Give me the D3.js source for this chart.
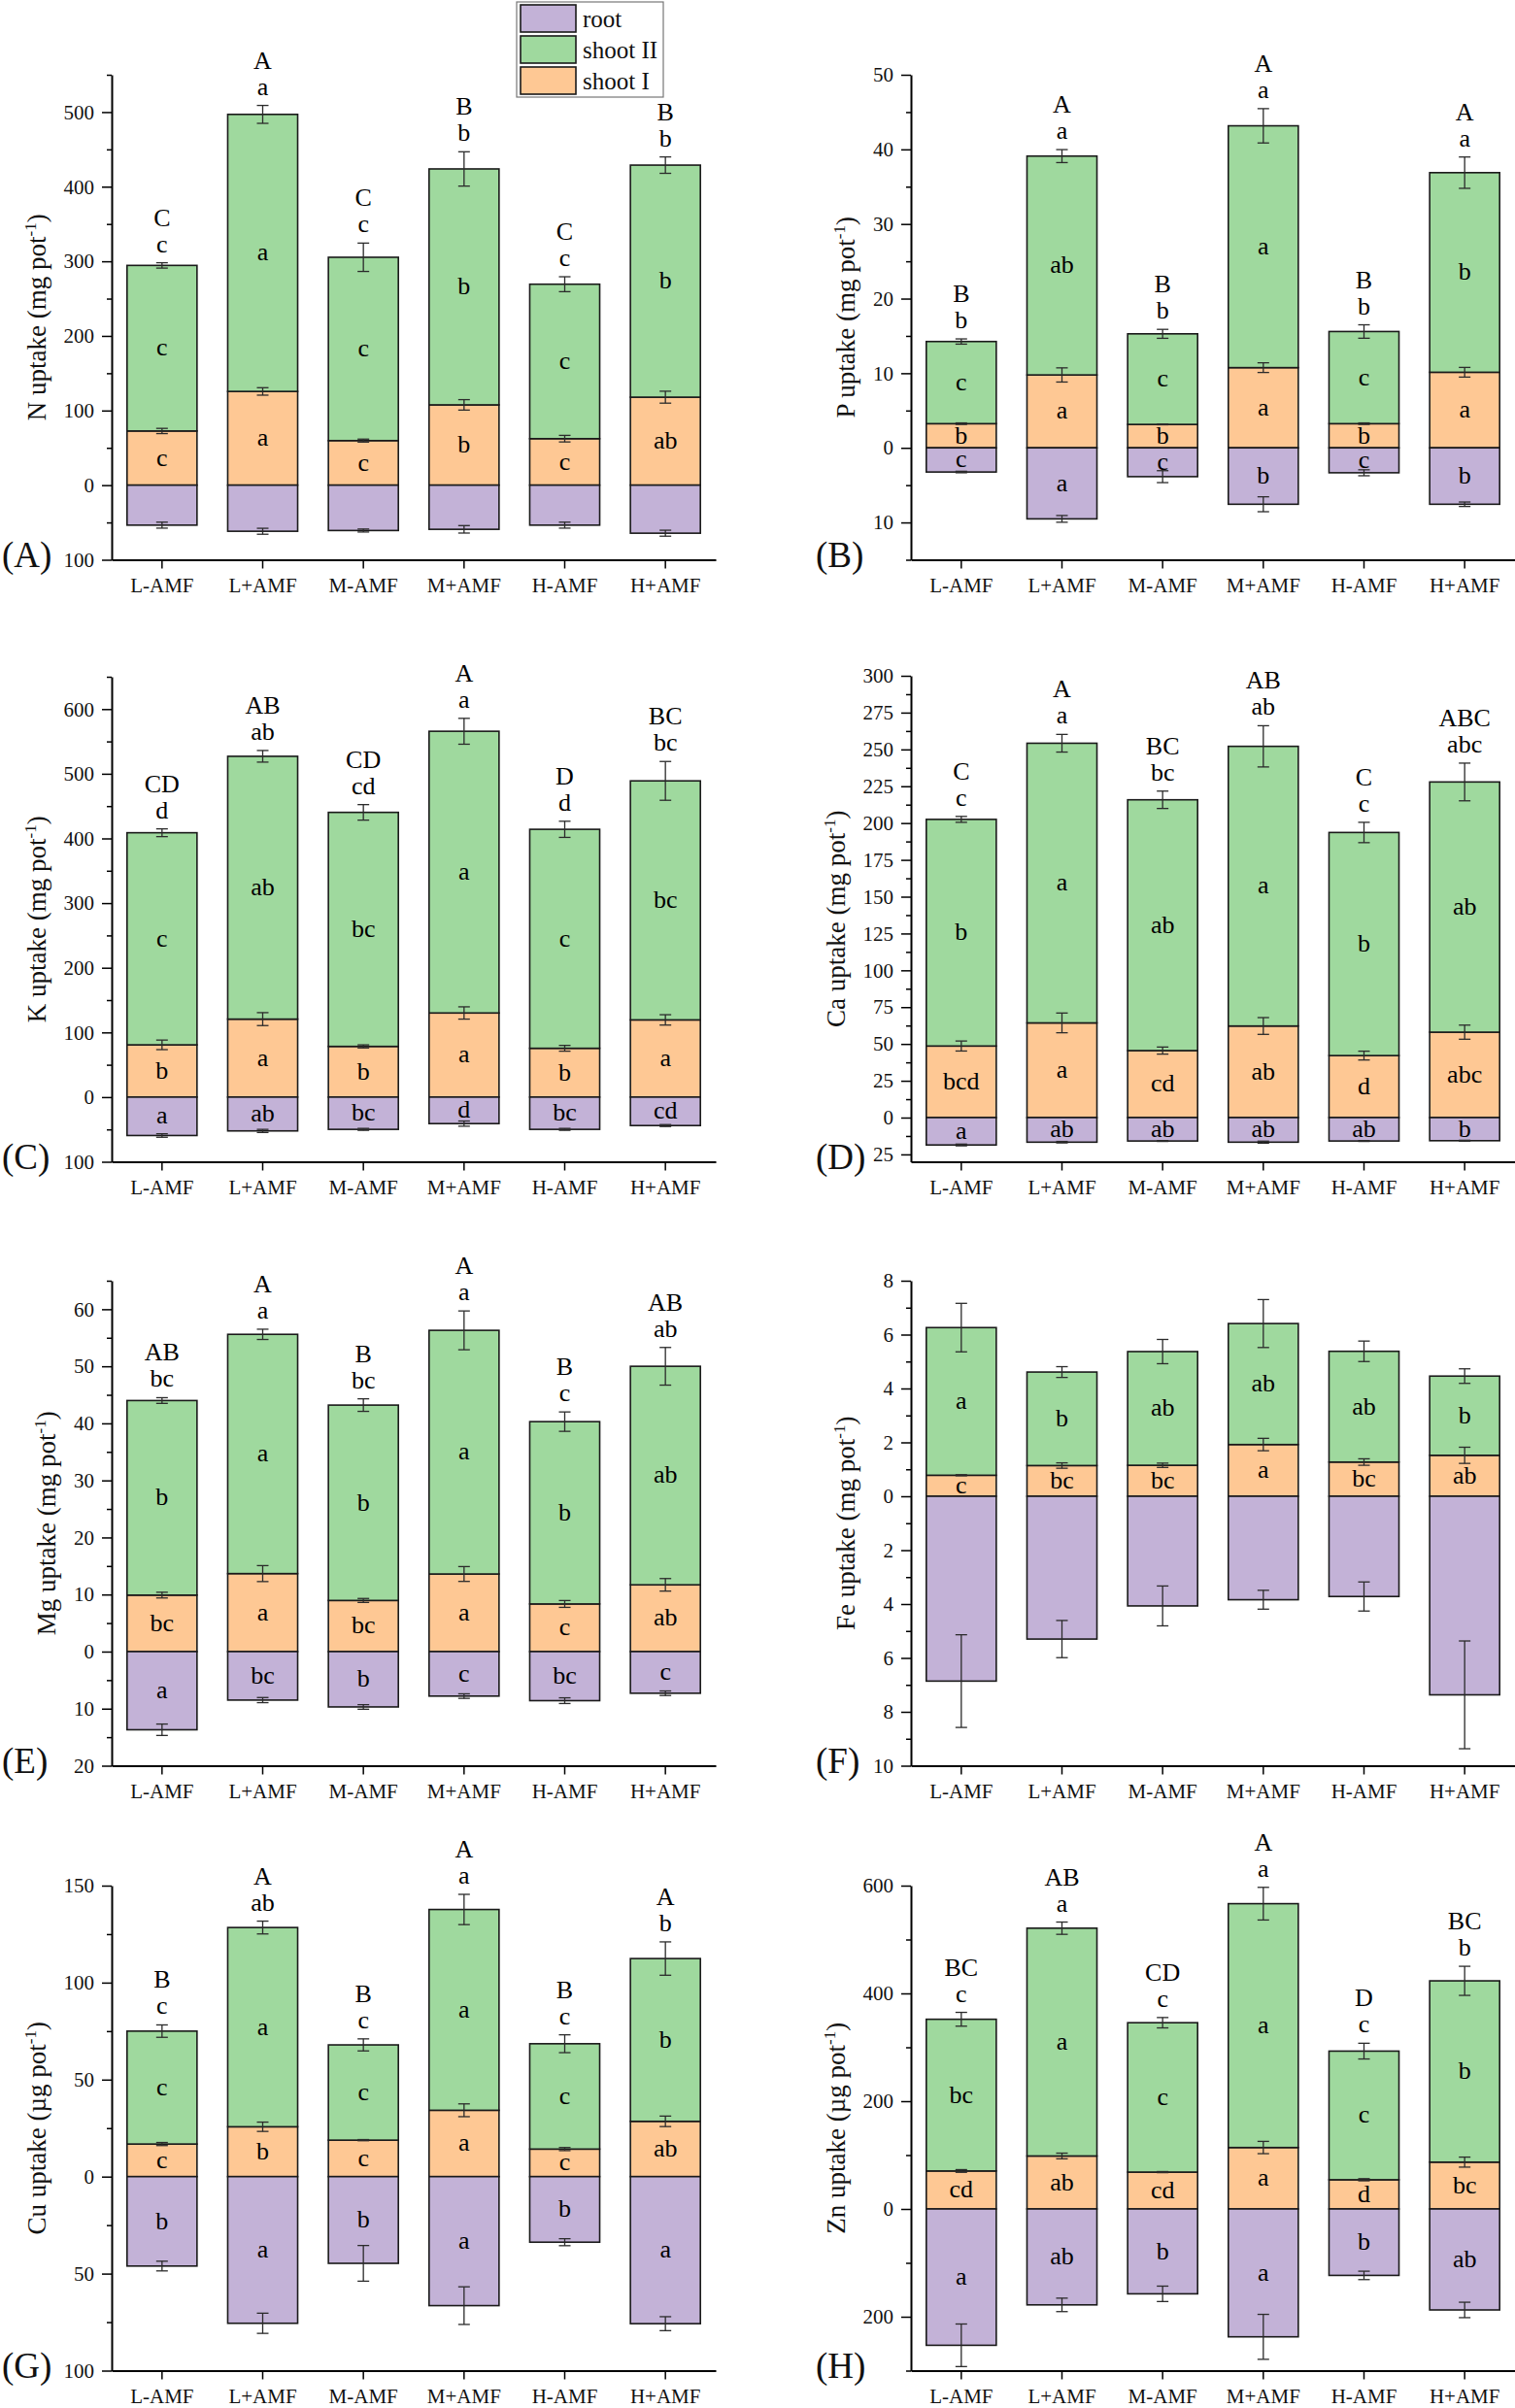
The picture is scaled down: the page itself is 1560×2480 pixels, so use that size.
<!DOCTYPE html>
<html>
<head>
<meta charset="utf-8">
<script src="https://cdn.jsdelivr.net/npm/d3@7"></script>
<style>
body { margin: 0; background: #fff; }
svg { display: block; font-family: "Liberation Serif", "Times New Roman", serif; }
</style>
</head>
<body>
<div id="chart"></div>
<script>
var width = 1560;
var height = 2480;

var groups = ["L-AMF", "L+AMF", "M-AMF", "M+AMF", "H-AMF", "H+AMF"];
var seriesNames = ["root", "shoot II", "shoot I"];
var seriesColors = { "root": "#c3b2d7", "shoot II": "#9fd99e", "shoot I": "#fec894" };

// N (mg pot-1)
var nShootI = [72.6, 125.6, 59.7, 107.6, 62.3, 117.9];
var nShootII = [221.9, 371.3, 245.7, 316.2, 207.0, 311.0];
var nRoot = [53.6, 61.8, 60.8, 59.2, 53.6, 64.4];
var nShootIErr = [3.5, 5, 2, 7, 4.4, 8];
var nShootIIErr = [3.6, 12, 19, 23, 10, 11];
var nRootErr = [4, 4, 2, 5, 4, 4];
var nUpper = ["C", "A", "C", "B", "C", "B"];
var nLower = ["c", "a", "c", "b", "c", "b"];
var nLetII = ["c", "a", "c", "b", "c", "b"];
var nLetI = ["c", "a", "c", "b", "c", "ab"];
var nLetRoot = null;

// P (mg pot-1)
var pShootI = [3.24, 9.77, 3.14, 10.75, 3.24, 10.13];
var pShootII = [11.01, 29.33, 12.14, 32.41, 12.35, 26.75];
var pRoot = [3.24, 9.52, 3.86, 7.56, 3.34, 7.56];
var pShootIErr = [0.1, 0.95, 0.05, 0.65, 0.1, 0.65];
var pShootIIErr = [0.35, 0.87, 0.6, 2.3, 0.9, 2.1];
var pRootErr = [0.1, 0.45, 0.8, 1.0, 0.4, 0.3];
var pUpper = ["B", "A", "B", "A", "B", "A"];
var pLower = ["b", "a", "b", "a", "b", "a"];
var pLetII = ["c", "ab", "c", "a", "c", "b"];
var pLetI = ["b", "a", "b", "a", "b", "a"];
var pLetRoot = ["c", "a", "c", "b", "c", "b"];

// K (mg pot-1)
var kShootI = [80.8, 120.6, 78.4, 130.1, 75.5, 119.4];
var kShootII = [328.0, 406.4, 361.9, 435.6, 338.6, 369.6];
var kRoot = [59.4, 52.3, 49.9, 41.0, 49.9, 44.0];
var kShootIErr = [7.4, 10, 2.4, 9.5, 4.5, 8];
var kShootIIErr = [6, 9, 12, 20, 12.5, 30];
var kRootErr = [2.7, 2.4, 1.5, 4, 1.5, 1.5];
var kUpper = ["CD", "AB", "CD", "A", "D", "BC"];
var kLower = ["d", "ab", "cd", "a", "d", "bc"];
var kLetII = ["c", "ab", "bc", "a", "c", "bc"];
var kLetI = ["b", "a", "b", "a", "b", "a"];
var kLetRoot = ["a", "ab", "bc", "d", "bc", "cd"];

// Ca (mg pot-1)
var caShootI = [48.6, 64.3, 45.5, 62.2, 42.1, 58.0];
var caShootII = [153.9, 189.9, 170.3, 189.9, 151.5, 169.9];
var caRoot = [18.6, 16.7, 15.9, 16.7, 15.9, 15.7];
var caShootIErr = [3.4, 6.7, 2.4, 5.7, 3, 4.8];
var caShootIIErr = [2, 6, 5.9, 14, 6.9, 12.8];
var caRootErr = [0.6, 0.5, 0.3, 0.7, 0.3, 0.3];
var caUpper = ["C", "A", "BC", "AB", "C", "ABC"];
var caLower = ["c", "a", "bc", "ab", "c", "abc"];
var caLetII = ["b", "a", "ab", "a", "b", "ab"];
var caLetI = ["bcd", "a", "cd", "ab", "d", "abc"];
var caLetRoot = ["a", "ab", "ab", "ab", "ab", "b"];

// Mg (mg pot-1)
var mgShootI = [9.9, 13.67, 8.96, 13.6, 8.35, 11.7];
var mgShootII = [34.1, 41.93, 34.24, 42.7, 31.95, 38.3];
var mgRoot = [13.7, 8.5, 9.7, 7.8, 8.6, 7.3];
var mgShootIErr = [0.5, 1.4, 0.35, 1.3, 0.6, 1.1];
var mgShootIIErr = [0.5, 0.9, 1.1, 3.4, 1.7, 3.3];
var mgRootErr = [1.0, 0.45, 0.4, 0.4, 0.5, 0.4];
var mgUpper = ["AB", "A", "B", "A", "B", "AB"];
var mgLower = ["bc", "a", "bc", "a", "c", "ab"];
var mgLetII = ["b", "a", "b", "a", "b", "ab"];
var mgLetI = ["bc", "a", "bc", "a", "c", "ab"];
var mgLetRoot = ["a", "bc", "b", "c", "bc", "c"];

// Fe (mg pot-1)
var feShootI = [0.78, 1.14, 1.15, 1.92, 1.27, 1.52];
var feShootII = [5.48, 3.47, 4.22, 4.49, 4.11, 2.94];
var feRoot = [6.86, 5.30, 4.07, 3.84, 3.72, 7.37];
var feShootIErr = [0.02, 0.1, 0.08, 0.23, 0.12, 0.3];
var feShootIIErr = [0.9, 0.2, 0.45, 0.89, 0.38, 0.27];
var feRootErr = [1.72, 0.69, 0.74, 0.35, 0.54, 2.0];
var feUpper = null;
var feLower = null;
var feLetII = ["a", "b", "ab", "ab", "ab", "b"];
var feLetI = ["c", "bc", "bc", "a", "bc", "ab"];
var feLetRoot = null;

// Cu (ug pot-1)
var cuShootI = [16.8, 25.7, 18.8, 34.2, 14.2, 28.5];
var cuShootII = [58.2, 102.7, 49.1, 103.5, 54.3, 83.9];
var cuRoot = [46.1, 75.6, 44.7, 66.5, 33.8, 75.8];
var cuShootIErr = [0.8, 2.4, 0.3, 3.3, 0.8, 2.7];
var cuShootIIErr = [3.2, 3.3, 3.1, 7.8, 4.6, 8.6];
var cuRootErr = [2.5, 5.2, 9.2, 9.7, 1.8, 3.6];
var cuUpper = ["B", "A", "B", "A", "B", "A"];
var cuLower = ["c", "ab", "c", "a", "c", "b"];
var cuLetII = ["c", "a", "c", "a", "c", "b"];
var cuLetI = ["c", "b", "c", "a", "c", "ab"];
var cuLetRoot = ["b", "a", "b", "a", "b", "a"];

// Zn (ug pot-1)
var znShootI = [70.5, 98.3, 68.4, 114, 54.2, 86.9];
var znShootII = [281.5, 422.7, 277.2, 452.5, 238.7, 336.4];
var znRoot = [253, 178, 157.5, 237.3, 123.3, 187.4];
var znShootIErr = [2.5, 5.3, 1, 11.4, 2, 9.3];
var znShootIIErr = [12.8, 11.4, 9.6, 30.3, 14.6, 27];
var znRootErr = [39.5, 12.5, 14.3, 41.7, 7.8, 14.3];
var znUpper = ["BC", "AB", "CD", "A", "D", "BC"];
var znLower = ["c", "a", "c", "a", "c", "b"];
var znLetII = ["bc", "a", "c", "a", "c", "b"];
var znLetI = ["cd", "ab", "cd", "a", "d", "bc"];
var znLetRoot = ["a", "ab", "b", "a", "b", "ab"];

var panels = [
  { tag: "(A)", name: "N", unit: "mg", col: 0, row: 0, domain: [-100, 550], step: 100, top: 77, bottom: 576.5,
    shootI: nShootI, shootII: nShootII, root: nRoot, shootIErr: nShootIErr, shootIIErr: nShootIIErr, rootErr: nRootErr,
    upper: nUpper, lower: nLower, letII: nLetII, letI: nLetI, letRoot: nLetRoot },
  { tag: "(B)", name: "P", unit: "mg", col: 1, row: 0, domain: [-15, 50], step: 10, top: 77, bottom: 576.5,
    shootI: pShootI, shootII: pShootII, root: pRoot, shootIErr: pShootIErr, shootIIErr: pShootIIErr, rootErr: pRootErr,
    upper: pUpper, lower: pLower, letII: pLetII, letI: pLetI, letRoot: pLetRoot },
  { tag: "(C)", name: "K", unit: "mg", col: 0, row: 1, domain: [-100, 650], step: 100, top: 77, bottom: 576.5,
    shootI: kShootI, shootII: kShootII, root: kRoot, shootIErr: kShootIErr, shootIIErr: kShootIIErr, rootErr: kRootErr,
    upper: kUpper, lower: kLower, letII: kLetII, letI: kLetI, letRoot: kLetRoot },
  { tag: "(D)", name: "Ca", unit: "mg", col: 1, row: 1, domain: [-30, 300], step: 25, top: 76, bottom: 576.5,
    shootI: caShootI, shootII: caShootII, root: caRoot, shootIErr: caShootIErr, shootIIErr: caShootIIErr, rootErr: caRootErr,
    upper: caUpper, lower: caLower, letII: caLetII, letI: caLetI, letRoot: caLetRoot },
  { tag: "(E)", name: "Mg", unit: "mg", col: 0, row: 2, domain: [-20, 65], step: 10, top: 79, bottom: 578.5,
    shootI: mgShootI, shootII: mgShootII, root: mgRoot, shootIErr: mgShootIErr, shootIIErr: mgShootIIErr, rootErr: mgRootErr,
    upper: mgUpper, lower: mgLower, letII: mgLetII, letI: mgLetI, letRoot: mgLetRoot },
  { tag: "(F)", name: "Fe", unit: "mg", col: 1, row: 2, domain: [-10, 8], step: 2, top: 79, bottom: 578.5,
    shootI: feShootI, shootII: feShootII, root: feRoot, shootIErr: feShootIErr, shootIIErr: feShootIIErr, rootErr: feRootErr,
    upper: feUpper, lower: feLower, letII: feLetII, letI: feLetI, letRoot: feLetRoot },
  { tag: "(G)", name: "Cu", unit: "\u00b5g", col: 0, row: 3, domain: [-100, 150], step: 50, top: 82, bottom: 581.5,
    shootI: cuShootI, shootII: cuShootII, root: cuRoot, shootIErr: cuShootIErr, shootIIErr: cuShootIIErr, rootErr: cuRootErr,
    upper: cuUpper, lower: cuLower, letII: cuLetII, letI: cuLetI, letRoot: cuLetRoot },
  { tag: "(H)", name: "Zn", unit: "\u00b5g", col: 1, row: 3, domain: [-300, 600], step: 200, top: 82, bottom: 581.5,
    shootI: znShootI, shootII: znShootII, root: znRoot, shootIErr: znShootIErr, shootIIErr: znShootIIErr, rootErr: znRootErr,
    upper: znUpper, lower: znLower, letII: znLetII, letI: znLetI, letRoot: znLetRoot }
];

var colX = [115, 938];
var colTag = [2, 840];
var plotWidth = 622;
var rowHeight = 620;
var letterSize = 26;

var svg = d3.select("#chart").append("svg")
  .attr("width", width)
  .attr("height", height);

function renderPanel(p) {
  var axisX = colX[p.col];
  var oy = p.row * rowHeight;
  var g = svg.append("g").attr("class", "panel");

  var x = d3.scaleBand()
    .domain(groups)
    .range([axisX, axisX + plotWidth])
    .paddingInner(0.305)
    .paddingOuter(0.1525);
  var y = d3.scaleLinear()
    .domain(p.domain)
    .range([oy + p.bottom, oy + p.top]);

  // segments: shoot I from 0 up, shoot II stacked on it, root from 0 down
  var segs = [];
  groups.forEach((name, i) => {
    var s1 = p.shootI[i];
    var tot = s1 + p.shootII[i];
    segs.push({ g: name, key: "shoot I", y0: 0, y1: s1, err: p.shootIErr[i], letter: p.letI ? p.letI[i] : "" });
    segs.push({ g: name, key: "shoot II", y0: s1, y1: tot, err: p.shootIIErr[i], letter: p.letII ? p.letII[i] : "" });
    segs.push({ g: name, key: "root", y0: 0, y1: -p.root[i], err: p.rootErr[i], letter: p.letRoot ? p.letRoot[i] : "" });
  });

  g.append("g").selectAll("rect")
    .data(segs)
    .enter()
    .append("rect")
    .attr("x", d => x(d.g))
    .attr("width", x.bandwidth())
    .attr("y", d => Math.min(y(d.y0), y(d.y1)))
    .attr("height", d => Math.abs(y(d.y0) - y(d.y1)))
    .attr("fill", d => seriesColors[d.key])
    .attr("stroke", "#1a1a1a")
    .attr("stroke-width", 1.6);

  // error bars at the outer end of each segment
  var eb = g.append("g")
    .attr("stroke", "#2b2b2b")
    .attr("stroke-width", 1.3)
    .selectAll("g")
    .data(segs)
    .enter()
    .append("g");
  eb.append("line")
    .attr("x1", d => x(d.g) + x.bandwidth() / 2)
    .attr("x2", d => x(d.g) + x.bandwidth() / 2)
    .attr("y1", d => y(d.y1 - d.err))
    .attr("y2", d => y(d.y1 + d.err));
  [-1, 1].forEach(s => {
    eb.append("line")
      .attr("x1", d => x(d.g) + x.bandwidth() / 2 - 6)
      .attr("x2", d => x(d.g) + x.bandwidth() / 2 + 6)
      .attr("y1", d => y(d.y1 + s * d.err))
      .attr("y2", d => y(d.y1 + s * d.err));
  });

  // letters inside segments
  g.append("g").selectAll("text")
    .data(segs.filter(d => d.letter))
    .enter()
    .append("text")
    .attr("x", d => x(d.g) + x.bandwidth() / 2)
    .attr("y", d => (y(d.y0) + y(d.y1)) / 2)
    .attr("dy", "0.3em")
    .attr("text-anchor", "middle")
    .attr("font-size", letterSize)
    .text(d => d.letter);

  // letters above the bars
  if (p.lower) {
    groups.forEach((name, i) => {
      var errTop = y(p.shootI[i] + p.shootII[i] + p.shootIIErr[i]);
      var cx = x(name) + x.bandwidth() / 2;
      g.append("text")
        .attr("x", cx)
        .attr("y", errTop - 11)
        .attr("text-anchor", "middle")
        .attr("font-size", letterSize)
        .text(p.lower[i]);
      g.append("text")
        .attr("x", cx)
        .attr("y", errTop - 11 - 27)
        .attr("text-anchor", "middle")
        .attr("font-size", letterSize)
        .text(p.upper[i]);
    });
  }

  // axes
  var half = p.step / 2;
  var start = Math.ceil(p.domain[0] / half - 1e-9) * half;
  var all = d3.range(start, p.domain[1] + 1e-9, half);
  var majors = all.filter(v => Math.abs(v / p.step - Math.round(v / p.step)) < 1e-6);
  var minors = all.filter(v => Math.abs(v / p.step - Math.round(v / p.step)) >= 1e-6);

  g.append("g")
    .attr("transform", "translate(" + axisX + ",0)")
    .call(d3.axisLeft(y).tickValues(minors).tickSize(5).tickSizeOuter(0).tickFormat(""))
    .call(a => a.select(".domain").remove())
    .selectAll("line").attr("stroke-width", 1.5);

  var yAxis = g.append("g")
    .attr("transform", "translate(" + axisX + ",0)")
    .call(d3.axisLeft(y).tickValues(majors).tickSize(10).tickSizeOuter(0).tickPadding(8)
      .tickFormat(d => Math.abs(d)))
    .attr("font-family", null)
    .attr("font-size", 21);
  yAxis.select(".domain").attr("stroke-width", 2);
  yAxis.selectAll("line").attr("stroke-width", 1.5);
  yAxis.selectAll("text").attr("fill", "#111");

  var xAxis = g.append("g")
    .attr("transform", "translate(0," + (oy + p.bottom) + ")")
    .call(d3.axisBottom(x).tickSize(9).tickSizeOuter(0).tickPadding(10))
    .attr("font-family", null)
    .attr("font-size", 21);
  xAxis.select(".domain").attr("stroke-width", 2);
  xAxis.selectAll("line").attr("stroke-width", 1.5);
  xAxis.selectAll("text").attr("fill", "#111");

  // y label, placed left of the tick labels (bbox is in the axis group's own coords)
  var box = yAxis.node().getBBox();
  var lx = axisX + box.x - 19;
  var ly = oy + (p.top + p.bottom) / 2;
  var label = g.append("text")
    .attr("transform", "translate(" + lx + "," + ly + ") rotate(-90)")
    .attr("text-anchor", "middle")
    .attr("font-size", 27)
    .attr("fill", "#111");
  label.append("tspan").text(p.name + " uptake (" + p.unit + " pot");
  label.append("tspan").attr("font-size", 17).attr("dy", -10).text("-1");
  label.append("tspan").attr("dy", 10).text(")");

  g.append("text")
    .attr("x", colTag[p.col])
    .attr("y", oy + p.bottom + 7)
    .attr("font-size", 37)
    .attr("fill", "#111")
    .text(p.tag);
}

panels.forEach(renderPanel);

// legend
var legend = svg.append("g").attr("class", "legend");
legend.append("rect")
  .attr("x", 532)
  .attr("y", 2)
  .attr("width", 151)
  .attr("height", 98)
  .attr("fill", "#fff")
  .attr("stroke", "#777")
  .attr("stroke-width", 1.2);
var item = legend.selectAll("g.item")
  .data(seriesNames)
  .enter()
  .append("g")
  .attr("class", "item")
  .attr("transform", (d, i) => "translate(536," + (5 + i * 32) + ")");
item.append("rect")
  .attr("width", 57)
  .attr("height", 28)
  .attr("fill", d => seriesColors[d])
  .attr("stroke", "#1a1a1a")
  .attr("stroke-width", 1.6);
item.append("text")
  .attr("x", 64)
  .attr("y", 23)
  .attr("font-size", 25)
  .attr("fill", "#111")
  .text(d => d);
</script>
</body>
</html>
